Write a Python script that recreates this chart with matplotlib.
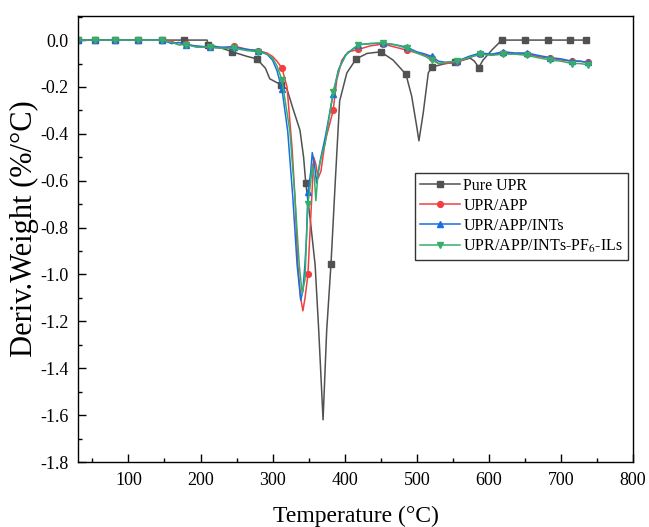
import numpy as np
import matplotlib.pyplot as plt
from matplotlib.ticker import MultipleLocator, FormatStrFormatter

plt.rcParams['font.family'] = ['Liberation Serif', 'DejaVu Serif']
plt.rcParams['axes.unicode_minus'] = False
plt.rcParams['mathtext.fontset'] = 'stix'

# Pure UPR
T_upr = [30, 54, 81, 113, 147, 177, 209, 211, 225, 244, 265, 278, 290, 296, 305, 312, 320, 328, 338, 343,
         346, 352, 359, 364, 370, 375, 381, 387, 393, 403, 416, 431, 450, 467, 485, 493, 500, 503, 509, 516,
         521, 540, 553, 574, 580, 586, 592, 605, 618, 650, 682, 713, 735]
D_upr = [0, 0, 0, 0, 0, 0, 0, -0.02, -0.03, -0.05, -0.07, -0.08, -0.12, -0.165, -0.18, -0.19, -0.21, -0.29, -0.385, -0.5,
         -0.61, -0.76, -0.96, -1.24, -1.62, -1.24, -0.955, -0.60, -0.26, -0.14, -0.08, -0.057, -0.05, -0.085, -0.146, -0.24, -0.37, -0.43, -0.31, -0.14,
         -0.115, -0.10, -0.095, -0.077, -0.09, -0.117, -0.085, -0.04, 0.0, 0, 0, 0, 0]

# UPR/APP
T_app = [30, 54, 81, 113, 147, 160, 170, 180, 195, 213, 230, 246, 265, 280, 292, 300, 306, 313, 320, 327,
         331, 335, 339, 342, 345, 349, 352, 355, 357, 360, 363, 367, 373, 379, 384, 389, 396, 405, 419, 435,
         453, 470, 486, 500, 512, 521, 530, 540, 556, 572, 588, 604, 620, 636, 653, 668, 685, 700, 715, 726, 737]
D_app = [0, 0, 0, 0, 0, -0.005, -0.02, -0.015, -0.03, -0.03, -0.035, -0.025, -0.04, -0.045, -0.055, -0.07, -0.09, -0.12, -0.2, -0.46,
         -0.67, -0.96, -1.1, -1.155, -1.1, -1.0, -0.81, -0.63, -0.5, -0.53, -0.59, -0.56, -0.43, -0.36, -0.30, -0.17, -0.086, -0.05, -0.04, -0.025,
         -0.017, -0.03, -0.043, -0.055, -0.065, -0.077, -0.1, -0.1, -0.095, -0.075, -0.06, -0.062, -0.055, -0.058, -0.06, -0.07, -0.077, -0.085, -0.09, -0.09, -0.095]

# UPR/APP/INTs
T_int = [30, 54, 81, 113, 147, 160, 170, 180, 195, 213, 230, 246, 265, 280, 292, 300, 306, 313, 321, 328,
         334, 339, 342, 345, 347, 349, 353, 355, 358, 361, 364, 367, 373, 384, 391, 401, 419, 435, 453, 470,
         486, 500, 512, 521, 530, 540, 556, 572, 588, 604, 620, 636, 653, 668, 685, 700, 715, 726, 737]
D_int = [0, 0, 0, 0, 0, -0.015, -0.01, -0.02, -0.025, -0.03, -0.03, -0.03, -0.04, -0.045, -0.06, -0.086, -0.13, -0.21, -0.39, -0.67,
         -0.96, -1.11, -1.07, -0.95, -0.84, -0.65, -0.56, -0.48, -0.53, -0.61, -0.55, -0.50, -0.415, -0.23, -0.13, -0.064, -0.02, -0.015, -0.013, -0.02,
         -0.03, -0.05, -0.06, -0.07, -0.09, -0.095, -0.09, -0.07, -0.055, -0.06, -0.05, -0.055, -0.055, -0.065, -0.075, -0.08, -0.09, -0.09, -0.095]

# UPR/APP/INTs-PF6-ILs
T_pf6 = [30, 54, 81, 113, 147, 160, 170, 180, 195, 213, 230, 246, 265, 280, 292, 300, 306, 313, 324, 331,
         337, 341, 345, 347, 349, 353, 355, 358, 360, 363, 367, 373, 384, 393, 403, 419, 435, 453, 470, 486,
         500, 512, 521, 530, 540, 556, 572, 588, 604, 620, 636, 653, 668, 685, 700, 715, 726, 737]
D_pf6 = [0, 0, 0, 0, 0, -0.01, -0.02, -0.02, -0.03, -0.03, -0.035, -0.035, -0.045, -0.05, -0.06, -0.077, -0.11, -0.17, -0.39, -0.67,
         -0.96, -1.08, -1.02, -0.84, -0.70, -0.60, -0.53, -0.59, -0.685, -0.57, -0.505, -0.44, -0.22, -0.115, -0.057, -0.02, -0.015, -0.012, -0.02, -0.035,
         -0.055, -0.07, -0.086, -0.1, -0.095, -0.09, -0.075, -0.06, -0.065, -0.06, -0.06, -0.065, -0.075, -0.085, -0.09, -0.1, -0.1, -0.105]

marks_upr = [30, 54, 81, 113, 147, 177, 211, 244, 278, 312, 346, 381, 416, 450, 485, 521, 553, 586, 618, 650, 682, 713, 735]
marks_mod = [30, 54, 81, 113, 147, 180, 213, 246, 280, 313, 349, 384, 419, 453, 486, 521, 556, 588, 620, 653, 685, 715, 737]

labels = ['Pure UPR', 'UPR/APP', 'UPR/APP/INTs', 'UPR/APP/INTs-PF$_6$-ILs']
colors = ['#515151', '#F14040', '#1A6FDF', '#37AD6B']
markers = ['s', 'o', '^', 'v']

fig = plt.figure(figsize=(6.49, 5.27), dpi=100)
ax = fig.add_axes([78/649, 1-462/527, 555/649, 446.3/527])

series = [(T_upr, D_upr, marks_upr), (T_app, D_app, marks_mod), (T_int, D_int, marks_mod), (T_pf6, D_pf6, marks_mod)]
for (T, D, mk), lab, c, m in zip(series, labels, colors, markers):
    idx = [i for i, t in enumerate(T) if t in mk]
    ax.plot(T, D, color=c, lw=1.1, marker=m, ms=4.2, markevery=idx, label=lab)

ax.set_xlim(30, 800)
ax.set_ylim(-1.8, 0.104)
ax.xaxis.set_major_locator(MultipleLocator(100))
ax.xaxis.set_minor_locator(MultipleLocator(50))
ax.yaxis.set_major_locator(MultipleLocator(0.2))
ax.yaxis.set_minor_locator(MultipleLocator(0.1))
ax.yaxis.set_major_formatter(FormatStrFormatter('%.1f'))
ax.tick_params(which='both', direction='in', top=False, right=False, labelsize=13, width=1)
ax.tick_params(which='major', length=6, pad=7)
ax.tick_params(which='minor', length=3)
for s in ax.spines.values():
    s.set_linewidth(1.0)

ax.set_xlabel('Temperature (\u00b0C)', fontsize=17, labelpad=12)
ax.set_ylabel('Deriv.Weight (%/\u00b0C)', fontsize=22)
ax.yaxis.set_label_coords(-0.071, 0.524)

leg = ax.legend(loc='upper right', bbox_to_anchor=(0.991, 0.6475), fontsize=11.5, frameon=True,
                fancybox=False, edgecolor='black', handlelength=2.5, handletextpad=0.2,
                labelspacing=0.25, borderpad=0.3, borderaxespad=0)
leg.get_frame().set_linewidth(1.0)

fig.savefig('out.png', dpi=100)
